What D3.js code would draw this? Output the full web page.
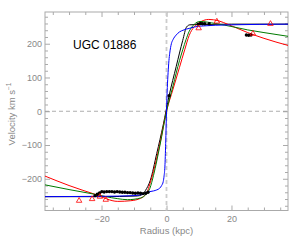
<!DOCTYPE html>
<html>
<head>
<meta charset="utf-8">
<script src="https://cdn.jsdelivr.net/npm/d3@7"></script>
<style>
  body { margin: 0; background: #fff; }
  svg { display: block; font-family: "Liberation Sans", Arial, sans-serif; }
</style>
</head>
<body>
<div id="chart"></div>
<script>
// observed rotation curve (black dots)
var dotR = [-22.0, -21.3, -20.6, -19.9, -19.2, -18.4, -17.6, -16.8, -16.0, -15.2, -14.4, -13.6, -12.8, -12.0, -11.2, -10.4, -9.6, -8.8, -8.0, -7.2, -6.4, -5.7,
            0.8, 9.7, 10.5, 11.1, 11.8, 13.1, 24.6, 25.3, 26.0];
var dotV = [-250, -246, -242, -238, -239, -238, -238, -238, -239, -238, -239, -240, -240, -241, -241, -242, -243, -242, -243, -244, -243, -240,
            46, 258, 260, 259, 259, 259, 226, 225, 226];

// second data set (red open triangles)
var triR = [-26.9, -22.9, -20.5, -18.7, 9.9, 15.5, 26.6, 32.0];
var triV = [-265, -260, -253, -262, 246, 266, 230, 259];

// model curves
var blackR = [-37.4, -20, -9, -7.5, -6.5, -5, -3, -1, 0.8, 3, 5, 6.2, 7.2, 10, 20, 37.4];
var blackV = [-253, -253, -251, -247, -235, -205, -125, -40, 46, 133, 210, 250, 256, 257, 258, 258];

var redR = [-37.4, -30, -22, -15, -11, -8, -6, -5.1, -4, -2, 0, 2, 4, 5.6, 7, 8.5, 10, 13, 16, 19, 25, 30, 37.4];
var redV = [-192, -220, -246, -267, -265, -258, -240, -215, -178, -95, 0, 65, 130, 182, 225, 250, 262, 272, 268, 257, 233, 216, 195];

var greenR = [-37.4, -30, -22.6, -15, -12, -8, -6.2, -5.1, -4, -2, 0, 2, 4, 5, 6, 7, 8.5, 10.3, 15, 20.5, 25, 30, 37.4];
var greenV = [-218, -232, -245, -259, -262, -257, -245, -228, -190, -100, 0, 75, 150, 182, 212, 237, 257, 266, 260, 250, 241, 233, 222];

var blueR = [-37.4, -20, -10, -7, -5.1, -4, -3, -2.1, -1.5, -1, -0.75, -0.5, -0.25, 0, 0.25, 0.5, 0.75, 1, 1.5, 2, 3, 4, 5.1, 7.2, 10, 20, 37.4];
var blueV = [-253, -252, -250, -245, -238, -236, -233, -228, -220, -208, -192, -165, -95, 0, 70, 115, 150, 172, 200, 212, 226, 235, 240, 246, 252, 256, 258];

var xMajor = [-20, 0, 20];
var xMinor = [-35, -30, -25, -15, -10, -5, 5, 10, 15, 25, 30, 35];
var yMajor = [-200, -100, 0, 100, 200];
var yMinor = [-280, -260, -240, -220, -180, -160, -140, -120, -80, -60, -40, -20, 20, 40, 60, 80, 120, 140, 160, 180, 220, 240, 260, 280];

var width = 300, height = 240;
var plotL = 45, plotR = 288, plotT = 12, plotB = 210.5;
var axisColor = '#aaa', textColor = '#888';

var svg = d3.select('#chart').append('svg').attr('width', width).attr('height', height);

var x = d3.scaleLinear().domain([-37.4, 37.4]).range([plotL, plotR]);
var y = d3.scaleLinear().domain([-294, 294]).range([plotB, plotT]);

function styleAxis(g) {
  g.select('.domain').remove();
  g.selectAll('line').attr('stroke', axisColor);
  g.selectAll('text').attr('fill', textColor).attr('font-size', 9);
}

// bottom
svg.append('g').attr('transform', 'translate(0,' + plotB + ')')
  .call(d3.axisBottom(x).tickValues(xMajor).tickSize(-5).tickPadding(5)).call(styleAxis);
svg.append('g').attr('transform', 'translate(0,' + plotB + ')')
  .call(d3.axisBottom(x).tickValues(xMinor).tickSize(-3).tickFormat('')).call(styleAxis);
// top
svg.append('g').attr('transform', 'translate(0,' + plotT + ')')
  .call(d3.axisTop(x).tickValues(xMajor).tickSize(-5).tickFormat('')).call(styleAxis);
svg.append('g').attr('transform', 'translate(0,' + plotT + ')')
  .call(d3.axisTop(x).tickValues(xMinor).tickSize(-3).tickFormat('')).call(styleAxis);
// left
svg.append('g').attr('transform', 'translate(' + plotL + ',0)')
  .call(d3.axisLeft(y).tickValues(yMajor).tickSize(-5).tickPadding(3)).call(styleAxis);
svg.append('g').attr('transform', 'translate(' + plotL + ',0)')
  .call(d3.axisLeft(y).tickValues(yMinor).tickSize(-3).tickFormat('')).call(styleAxis);
// right
svg.append('g').attr('transform', 'translate(' + plotR + ',0)')
  .call(d3.axisRight(y).tickValues(yMajor).tickSize(-5).tickFormat('')).call(styleAxis);
svg.append('g').attr('transform', 'translate(' + plotR + ',0)')
  .call(d3.axisRight(y).tickValues(yMinor).tickSize(-3).tickFormat('')).call(styleAxis);

svg.append('rect')
  .attr('x', plotL).attr('y', plotT)
  .attr('width', plotR - plotL).attr('height', plotB - plotT)
  .attr('fill', 'none').attr('stroke', axisColor);

// zero lines
svg.append('line')
  .attr('x1', plotL).attr('x2', plotR).attr('y1', y(0)).attr('y2', y(0))
  .attr('stroke', '#999').attr('stroke-width', 0.8).attr('stroke-dasharray', '4,3');
svg.append('line')
  .attr('x1', x(0)).attr('x2', x(0)).attr('y1', plotT).attr('y2', plotB)
  .attr('stroke', '#ccc').attr('stroke-width', 1.8).attr('stroke-dasharray', '4,3');

// models
var line = d3.line()
  .x(function(d) { return x(d[0]); })
  .y(function(d) { return y(d[1]); })
  .curve(d3.curveMonotoneX);

var models = [
  { r: blackR, v: blackV, color: '#000' },
  { r: redR, v: redV, color: '#ff0000' },
  { r: greenR, v: greenV, color: '#007a00' },
  { r: blueR, v: blueV, color: '#0000ff' }
];
models.forEach(function(m) {
  svg.append('path')
    .attr('d', line(d3.zip(m.r, m.v)))
    .attr('fill', 'none')
    .attr('stroke', m.color)
    .attr('stroke-width', 1);
});

// data points
svg.append('g').selectAll('circle')
  .data(d3.zip(dotR, dotV))
  .enter().append('circle')
  .attr('cx', function(d) { return x(d[0]); })
  .attr('cy', function(d) { return y(d[1]); })
  .attr('r', 1.7)
  .attr('fill', '#000');

svg.append('g').selectAll('path')
  .data(d3.zip(triR, triV))
  .enter().append('path')
  .attr('d', d3.symbol(d3.symbolTriangle, 13))
  .attr('transform', function(d) { return 'translate(' + x(d[0]) + ',' + y(d[1]) + ')'; })
  .attr('fill', 'none')
  .attr('stroke', '#ff0000')
  .attr('stroke-width', 0.8);

// labels
svg.append('text')
  .attr('x', 73).attr('y', 48.5)
  .attr('font-size', 12).attr('fill', '#000')
  .text('UGC 01886');

svg.append('text')
  .attr('x', x(0)).attr('y', 234)
  .attr('text-anchor', 'middle')
  .attr('font-size', 9.5).attr('fill', textColor)
  .text('Radius (kpc)');

var yl = svg.append('text')
  .attr('transform', 'translate(15,114) rotate(-90)')
  .attr('text-anchor', 'middle')
  .attr('font-size', 9.5).attr('fill', textColor);
yl.append('tspan').text('Velocity km s');
yl.append('tspan').attr('font-size', 6.5).attr('dy', -4).text('−1');
</script>
</body>
</html>
